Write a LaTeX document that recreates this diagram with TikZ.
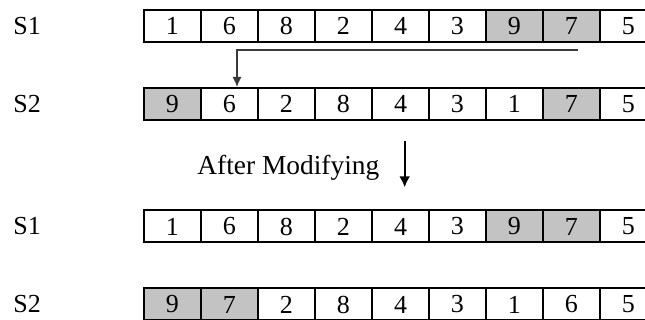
\documentclass[tikz,border=0pt]{standalone}
\usepackage{fontspec}
\setmainfont{Liberation Serif}
\usepackage{xcolor}
\definecolor{cellgray}{HTML}{C3C3C3}
\definecolor{linkgray}{HTML}{3A3A3A}
\usetikzlibrary{arrows.meta,positioning}

\begin{document}
\begin{tikzpicture}[x=0.5pt,y=-0.5pt,>=Latex]
\tikzset{
 cell/.style={draw,line width=1pt,minimum width=28.5pt,minimum height=16pt,inner sep=0pt,font=\fontsize{13}{15}\selectfont},
 lbl/.style={anchor=west,inner sep=0pt,font=\fontsize{13}{15}\selectfont},
 link/.style={->,draw=linkgray,line width=0.6pt,-{Latex[length=5pt,width=4.5pt]}}
}
\useasboundingbox (0,0) rectangle (645,320);
\clip (0,0) rectangle (645,320);
% S1 / S2 before
\node[lbl] (s1a) at (13,26) {S1};
\node[lbl] (s2a) at (13,104) {S2};
\foreach \v/\c [count=\k] in {1/white,6/white,8/white,2/white,4/white,3/white,9/cellgray,7/cellgray,5/white}
 {\node[cell,fill=\c] (a\k) at (115.5+57*\k,26) {\v};}
\foreach \v/\c [count=\k] in {9/cellgray,6/white,2/white,8/white,4/white,3/white,1/white,7/cellgray,5/white}
 {\node[cell,fill=\c] (b\k) at (115.5+57*\k,104) {\v};}
\draw[link] ([xshift=3.25pt]a8.south) ++(0,7) -| ([xshift=3.75pt]b2.north);
% after modifying
\node[anchor=base west,inner sep=0pt,font=\fontsize{13.7}{16}\selectfont] (mod) at (197,175) {After Modifying};
\draw[line width=1pt,-{Latex[length=5.5pt,width=5.5pt]}] ([xshift=12.5pt,yshift=7pt]mod.north east) -- ([xshift=12.5pt,yshift=-3pt]mod.south east);
% S1 / S2 after
\node[lbl] (s1b) at (13,226) {S1};
\node[lbl] (s2b) at (13,304) {S2};
\foreach \v/\c [count=\k] in {1/white,6/white,8/white,2/white,4/white,3/white,9/cellgray,7/cellgray,5/white}
 {\node[cell,fill=\c] (c\k) at (115.5+57*\k,226.5) {\v};}
\foreach \v/\c [count=\k] in {9/cellgray,7/cellgray,2/white,8/white,4/white,3/white,1/white,6/white,5/white}
 {\node[cell,fill=\c] (d\k) at (115.5+57*\k,304.5) {\v};}
\end{tikzpicture}
\end{document}
